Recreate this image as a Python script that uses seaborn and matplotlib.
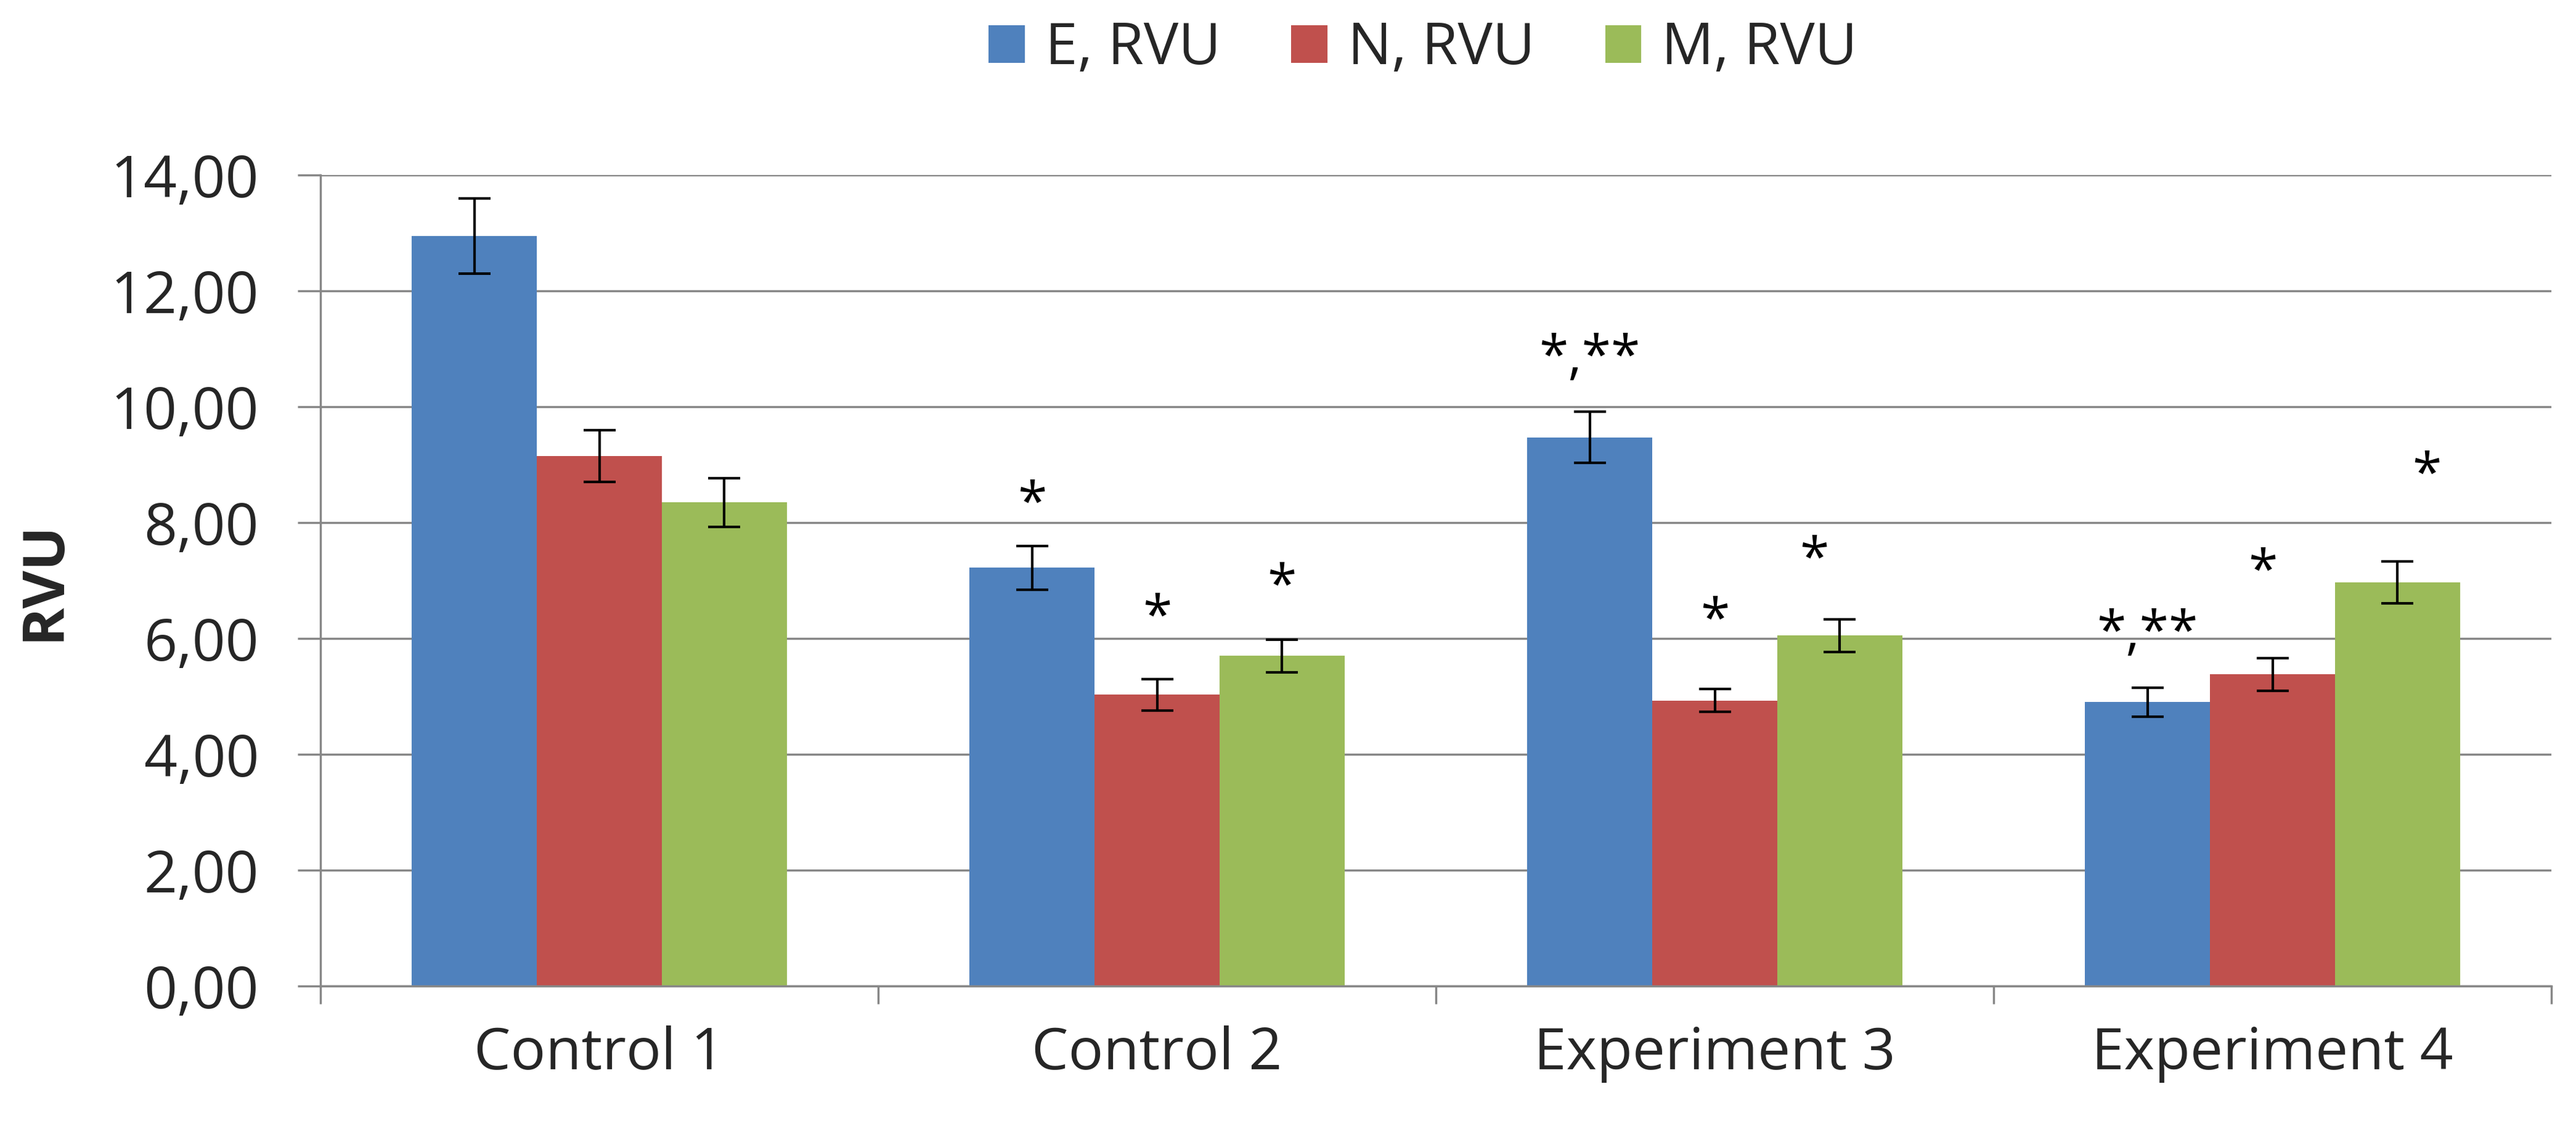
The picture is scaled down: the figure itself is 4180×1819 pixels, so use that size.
import numpy as np
import pandas as pd
import matplotlib
matplotlib.use("Agg")
import matplotlib.pyplot as plt
from matplotlib.patches import Patch
import seaborn as sns

groups = ['Control 1', 'Control 2', 'Experiment 3', 'Experiment 4']
series = ['E, RVU', 'N, RVU', 'M, RVU']
e_vals = [12.95, 7.22, 9.47, 4.90]
n_vals = [9.15, 5.03, 4.93, 5.38]
m_vals = [8.35, 5.70, 6.05, 6.97]
e_err = [0.65, 0.38, 0.44, 0.25]
n_err = [0.45, 0.27, 0.20, 0.28]
m_err = [0.42, 0.28, 0.28, 0.36]
colors = ['#4F81BD', '#C0504D', '#9BBB59']

# significance marks: group, series, label, height of the asterisks
mark_group = [1, 1, 1, 2, 2, 2, 3, 3, 3]
mark_series = [0, 1, 2, 0, 1, 2, 0, 1, 2]
mark_text = ['*', '*', '*', '*,**', '*', '*', '*,**', '*', '*']
mark_y = [8.59, 6.63, 7.17, 11.12, 6.58, 7.64, 6.37, 7.42, 9.09]
mark_dx = [0, 0, 0, 0, 0, -0.046, 0, -0.017, 0.053]

sns.set_theme(style='white')
plt.rcParams['font.family'] = ['Open Sans', 'DejaVu Sans']

df = pd.DataFrame({
    'group': groups * 3,
    'series': np.repeat(series, len(groups)),
    'value': e_vals + n_vals + m_vals,
})
errs = [e_err, n_err, m_err]

fig = plt.figure(figsize=(41.8, 18.19), dpi=100)
ax = fig.add_axes([520 / 4180, 1 - 1600 / 1819, 3620 / 4180, 1316 / 1819])

sns.barplot(data=df, x='group', y='value', hue='series', order=groups,
            hue_order=series, palette=colors, saturation=1, width=0.672,
            errorbar=None, linewidth=0, legend=False, ax=ax)

# error bars on bar centres
bar_conts = list(ax.containers)
centers = []
for i, cont in enumerate(bar_conts):
    xs = [p.get_x() + p.get_width() / 2 for p in cont]
    ys = [p.get_height() for p in cont]
    centers.append(xs)
    ax.errorbar(xs, ys, yerr=errs[i], fmt='none', ecolor='black',
                elinewidth=3, capsize=19, capthick=3, zorder=5)

fs = 68
for g, s, t, y, dx in zip(mark_group, mark_series, mark_text, mark_y, mark_dx):
    ax.annotate(t, (centers[s][g] + dx, y), xytext=(0, -37),
                textcoords='offset points', ha='center', va='baseline',
                fontsize=62, color='black')

ax.set_ylim(0, 14)
ax.set_xlim(-0.5, 3.5)
ax.set_yticks(np.arange(0, 15, 2))
ax.set_yticklabels([f'{v:.2f}'.replace('.', ',') for v in np.arange(0, 15, 2)])
ax.set_xticks(np.arange(-0.5, 4, 1))
ax.set_xticklabels([])
ax.set_xticks(range(4), minor=True)
ax.set_xticklabels(groups, minor=True)
ax.tick_params(axis='x', which='major', direction='out', length=21,
               width=2.5, color='#878787', bottom=True)
ax.tick_params(axis='x', which='minor', length=0, pad=46, labelsize=fs)
ax.tick_params(axis='y', direction='out', length=27, width=2.5,
               color='#878787', pad=45, labelsize=fs, left=True)

ax.yaxis.grid(True, color='#878787', lw=2.5)
ax.set_axisbelow(True)
for side in ['top', 'right']:
    ax.spines[side].set_visible(False)
for side in ['left', 'bottom']:
    ax.spines[side].set_color('#878787')
    ax.spines[side].set_linewidth(2.5)

ax.set_xlabel('')
ax.set_ylabel('RVU', fontsize=68, fontweight='bold')
ax.yaxis.set_label_coords(-0.1238, 0.5)
ax.yaxis.label.set_va('center')

handles = [Patch(facecolor=c, edgecolor='none') for c in colors]
fig.legend(handles, series, loc='center', bbox_to_anchor=(2309 / 4180, 1 - 80 / 1819),
           ncol=3, frameon=False, fontsize=fs, handlelength=0.62,
           handleheight=0.62, handletextpad=0.35, columnspacing=1.21)

fig.savefig('out.png', dpi=100)
